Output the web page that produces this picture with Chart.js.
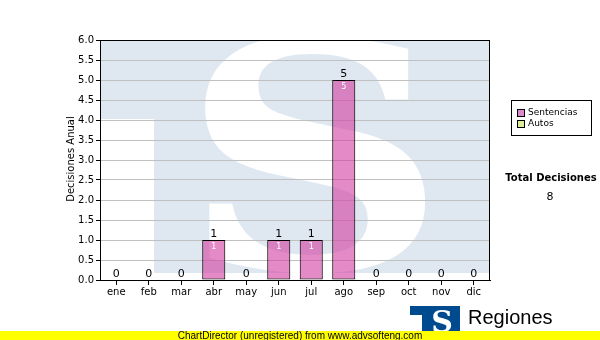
<!DOCTYPE html>
<html>
<head>
<meta charset="utf-8">
<script src="https://cdn.jsdelivr.net/npm/chart.js@4/dist/chart.umd.min.js"></script>
<style>
  html, body { margin: 0; padding: 0; background: #fff; }
  #wrap { width: 600px; height: 340px; position: relative; }
</style>
</head>
<body>
<div id="wrap"><canvas id="c" width="600" height="340"></canvas></div>
<script>
// monthly decisions, stacked by type
const months = ["ene", "feb", "mar", "abr", "may", "jun", "jul", "ago", "sep", "oct", "nov", "dic"];
const sentencias = [0, 0, 0, 1, 0, 1, 1, 5, 0, 0, 0, 0];
const autos = [0, 0, 0, 0, 0, 0, 0, 0, 0, 0, 0, 0];
const seriesNames = ["Sentencias", "Autos"];
const seriesColors = ["rgba(210,60,160,0.6)", "#ccee99"];
const legendColors = ["#dd88cc", "#ddee99"];
const totalLabel = "Total Decisiones";
const yTitle = "Decisiones Anual";
const footer = "ChartDirector (unregistered) from www.advsofteng.com";

const FONT = '"DejaVu Sans", Verdana, sans-serif';
const totals = months.map((_, i) => sentencias[i] + autos[i]);
const grandTotal = totals.reduce((a, b) => a + b, 0);

// background "TS" watermark inside the plot area
const watermark = {
  id: "watermark",
  beforeDraw(chart) {
    const { ctx, chartArea: a } = chart;
    ctx.save();
    ctx.beginPath();
    ctx.rect(a.left, a.top, a.right - a.left, a.bottom - a.top);
    ctx.clip();
    ctx.fillStyle = "#dfe8f1";
    ctx.fillRect(a.left, a.top, a.right - a.left, 233);
    ctx.fillStyle = "#fff";
    ctx.fillRect(a.left, 119, 54, a.bottom - 119);
    // big white S
    ctx.font = 'bold 100px "DejaVu Serif", serif';
    const m = ctx.measureText("S");
    const w = m.actualBoundingBoxLeft + m.actualBoundingBoxRight;
    const h = m.actualBoundingBoxAscent + m.actualBoundingBoxDescent;
    const bx = 203, by = 36, bw = 225, bh = 236;
    ctx.translate(bx, by);
    ctx.scale(bw / w, bh / h);
    ctx.textBaseline = "alphabetic";
    ctx.fillText("S", m.actualBoundingBoxLeft, m.actualBoundingBoxAscent);
    ctx.restore();
  },
};

const extras = {
  id: "extras",
  afterDatasetsDraw(chart) {
    const { ctx, chartArea: a, scales } = chart;
    const x = scales.x, y = scales.y;
    ctx.save();
    // plot frame
    ctx.strokeStyle = "#000";
    ctx.lineWidth = 1;
    ctx.strokeRect(a.left + 0.5, a.top + 0.5, a.right - a.left - 1, a.bottom - a.top);
    ctx.textAlign = "center";
    months.forEach((mo, i) => {
      const cx = x.getPixelForValue(i);
      const top = y.getPixelForValue(totals[i]);
      ctx.fillStyle = "#000";
      ctx.font = "11px " + FONT;
      ctx.textBaseline = "bottom";
      ctx.fillText(String(totals[i]), cx, top);
      if (sentencias[i] > 0) {
        ctx.fillStyle = "#fff";
        ctx.font = "8px " + FONT;
        ctx.textBaseline = "top";
        ctx.fillText(String(sentencias[i]), cx, top + 3);
      }
    });
    ctx.restore();
  },
  afterDraw(chart) {
    const { ctx } = chart;
    ctx.save();
    // y title
    ctx.translate(71, 159);
    ctx.rotate(-Math.PI / 2);
    ctx.fillStyle = "#000";
    ctx.font = "10px " + FONT;
    ctx.textAlign = "center";
    ctx.textBaseline = "middle";
    ctx.fillText(yTitle, 0, 0);
    ctx.restore();

    ctx.save();
    // legend box
    ctx.strokeStyle = "#000";
    ctx.lineWidth = 1;
    ctx.strokeRect(511.5, 100.5, 80, 35);
    ctx.font = "9px " + FONT;
    ctx.textBaseline = "middle";
    ctx.textAlign = "left";
    seriesNames.forEach((n, i) => {
      const yy = 113 + i * 11;
      ctx.fillStyle = legendColors[i];
      ctx.fillRect(517, yy - 3, 7, 7);
      ctx.strokeStyle = "#000";
      ctx.strokeRect(517.5, yy - 3.5, 7, 7);
      ctx.fillStyle = "#000";
      ctx.fillText(n, 528, yy);
    });
    // total
    ctx.textAlign = "center";
    ctx.font = "bold 10px " + FONT;
    ctx.fillText(totalLabel, 551, 178);
    ctx.font = "11px " + FONT;
    ctx.fillText(String(grandTotal), 550, 197);

    // logo
    ctx.fillStyle = "#004a8f";
    ctx.fillRect(410, 306, 50, 25);
    ctx.fillStyle = "#fff";
    ctx.fillRect(410, 315, 12, 16);
    ctx.font = 'bold 30px "DejaVu Serif", serif';
    ctx.textBaseline = "alphabetic";
    ctx.fillText("S", 442, 332);
    ctx.fillStyle = "#000";
    ctx.textAlign = "left";
    ctx.font = '20px "Liberation Sans", Arial, sans-serif';
    ctx.fillText("Regiones", 468, 324);

    // footer bar
    ctx.fillStyle = "#ffff00";
    ctx.fillRect(0, 331, 600, 9);
    ctx.fillStyle = "#000";
    ctx.textAlign = "center";
    ctx.font = '10px "Liberation Sans", Arial, sans-serif';
    ctx.fillText(footer, 300, 339);
    ctx.restore();
  },
};

new Chart(document.getElementById("c"), {
  type: "bar",
  data: {
    labels: months,
    datasets: [
      { label: seriesNames[0], data: sentencias, backgroundColor: seriesColors[0], borderColor: "#000", borderWidth: 1, borderSkipped: false },
      { label: seriesNames[1], data: autos, backgroundColor: seriesColors[1], borderColor: "#000", borderWidth: 0 },
    ],
  },
  options: {
    responsive: false,
    animation: false,
    events: [],
    layout: { padding: { left: 0, right: 110, top: 40, bottom: 40 } },
    plugins: { legend: { display: false }, tooltip: { enabled: false } },
    datasets: { bar: { categoryPercentage: 0.71, barPercentage: 1 } },
    scales: {
      x: {
        stacked: true,
        afterFit: (s) => { s.height = 20; },
        grid: { offset: false, drawOnChartArea: false, tickLength: 5, tickColor: "#000" },
        border: { color: "#000" },
        ticks: { color: "#000", font: { family: FONT, size: 10 }, padding: 1, maxRotation: 0 },
      },
      y: {
        stacked: true,
        min: 0, max: 6,
        afterFit: (s) => { s.width = 100; },
        grid: { color: "#c0c0c0", tickLength: 4, tickColor: "#000" },
        border: { color: "#000" },
        ticks: { stepSize: 0.5, color: "#000", font: { family: FONT, size: 10 }, padding: 2, callback: (v) => v.toFixed(1) },
      },
    },
  },
  plugins: [watermark, extras],
});
</script>
</body>
</html>
